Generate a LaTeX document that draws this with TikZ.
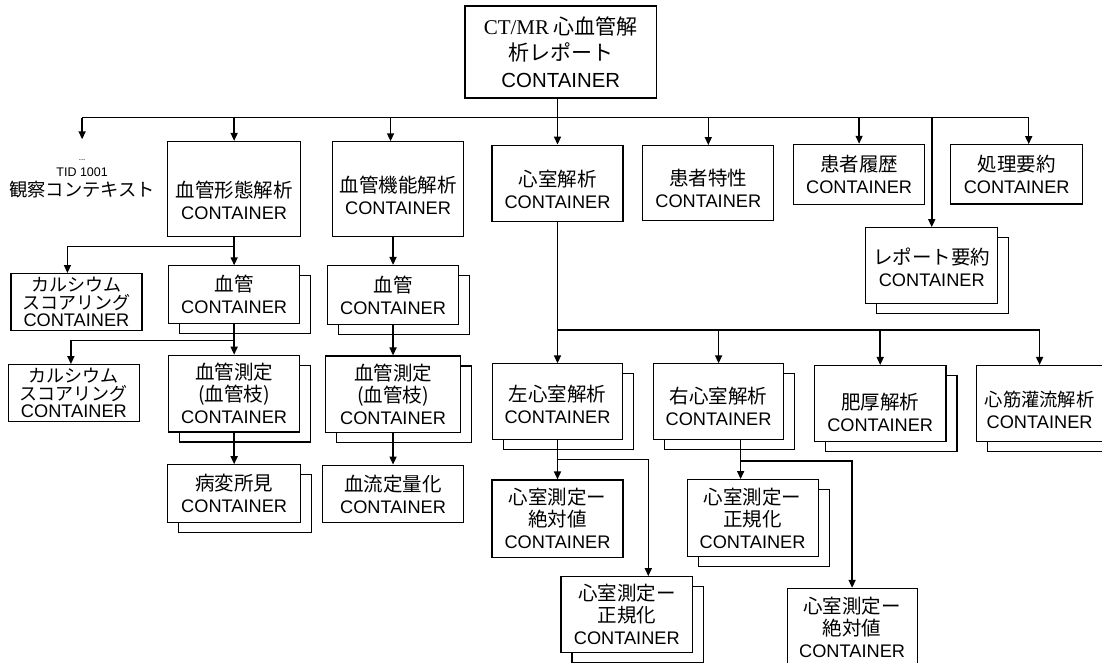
\documentclass[tikz,border=0pt]{standalone}
\usepackage{fontspec}
\setmainfont{Liberation Sans}
\newfontfamily\jpf{Noto Sans CJK JP}
\newfontfamily\tmsf{Liberation Serif}
\usetikzlibrary{arrows.meta,positioning,shadows}
\newcommand{\cnt}{{\rmfamily\fontsize{18.2}{\baselineskip}\selectfont CONTAINER}}
\newcommand{\sink}[1]{\rule{0pt}{#1pt}}

\begin{document}
\begin{tikzpicture}[x=1pt,y=-1pt,
    box/.style={draw,line width=1.1pt,fill=white,inner sep=0pt,minimum width=131pt,minimum height=76pt,align=center,font=\jpf\fontsize{19.5}{22}\selectfont},
    stack/.style={copy shadow={shadow xshift=11pt,shadow yshift=-10pt,draw=black,fill=white,line width=1.1pt}},
    arr/.style={-{Triangle[length=8pt,width=7pt]},line width=1.5pt},
    bus/.style={line width=1.2pt}]
  \useasboundingbox (0,0) rectangle (1102,662);
  % top level
  \node[box,minimum width=191.7pt,minimum height=92pt,font=\jpf\fontsize{21}{26.5}\selectfont] (report) at (560.8,52) {{\tmsf CT/MR} 心血管解\\析レポート\\{\rmfamily\fontsize{20.4}{\baselineskip}\selectfont CONTAINER}};
  \node[box,below=46pt of report,xshift=-3.3pt] (ventr) {\sink{29}心室解析\\\cnt};
  \node[box,minimum height=75pt,right=18.7pt of ventr] (ptchar) {\sink{27}患者特性\\\cnt};
  \node[box,minimum height=60pt,right=18.7pt of ptchar.north east,anchor=north west,yshift=1.3pt] (pthist) {患者履歴\\\cnt};
  \node[box,minimum width=132pt,minimum height=59.3pt,right=25pt of pthist] (procsum) {処理要約\\\cnt};
  \node[box,stack,minimum width=131.7pt,below right=22.3pt and 72.3pt of pthist.south west] (repsum) {\sink{19}レポート要約\\\cnt};
  \node[box,minimum width=131.7pt,minimum height=94.3pt,left=27pt of ventr.north west,anchor=north east,yshift=3.3pt] (vfunc) {\sink{29}血管機能解析\\\cnt};
  \node[box,minimum width=132.7pt,minimum height=95pt,left=30.6pt of vfunc] (vmorph) {\sink{39}血管形態解析\\\cnt};
  \node[align=center,inner sep=0pt,font=\fontsize{12.5}{14}\selectfont,left=12pt of vmorph,yshift=10pt] (tid) {{\fontsize{8}{8}\selectfont ...}\\[2pt]TID 1001\\[4pt]{\jpf\fontsize{18.3}{21}\selectfont 観察コンテキスト}};
  % vessel branches
  \node[box,stack,minimum height=57.7pt,below=28.3pt of vmorph] (vessel1) {血管\\\cnt};
  \node[box,minimum height=57.3pt,below left=7.7pt and 25.6pt of vessel1.north west,font=\jpf\fontsize{18}{17.5}\selectfont] (calc1) {カルシウム\\スコアリング\\\cnt};
  \node[box,stack,minimum height=76.7pt,below=30.6pt of vessel1] (vmeas1) {血管測定\\(血管枝)\\\cnt};
  \node[box,minimum width=130.7pt,minimum height=56.6pt,below left=9.4pt and 28.3pt of vmeas1.north west,font=\jpf\fontsize{18}{17.5}\selectfont] (calc2) {カルシウム\\スコアリング\\\cnt};
  \node[box,stack,minimum width=132.6pt,minimum height=57.6pt,below=31.7pt of vmeas1] (lesion) {病変所見\\\cnt};
  \node[box,stack,minimum height=59.4pt,below=28.3pt of vfunc,xshift=-5pt] (vessel2) {血管\\\cnt};
  \node[box,stack,minimum width=135pt,minimum height=76.6pt,below=30pt of vessel2] (vmeas2) {血管測定\\(血管枝)\\\cnt};
  \node[box,minimum width=141.6pt,minimum height=57.6pt,below=31.4pt of vmeas2] (flow) {血流定量化\\\cnt};
  % ventricle branches
  \node[box,stack,minimum width=130.6pt,minimum height=75.6pt,below=141.7pt of ventr] (lv) {\sink{21}左心室解析\\\cnt};
  \node[box,stack,minimum width=130.6pt,minimum height=75.6pt,right=29.4pt of lv] (rv) {\sink{25}右心室解析\\\cnt};
  \node[box,stack,minimum width=131.6pt,minimum height=76.4pt,right=29.4pt of rv,yshift=-2pt] (hyper) {\sink{34}肥厚解析\\\cnt};
  \node[box,stack,minimum width=127pt,minimum height=76.4pt,right=29pt of hyper,font=\jpf\fontsize{18.3}{22}\selectfont] (perf) {\sink{28}心筋灌流解析\\\cnt};
  \node[box,minimum height=77.3pt,below=39.4pt of lv] (lvabs) {心室測定ー\\絶対値\\\cnt};
  \node[box,stack,minimum width=131.6pt,below right=18.3pt and 69pt of lvabs.south west] (lvnorm) {心室測定ー\\正規化\\\cnt};
  \node[box,stack,minimum height=77pt,below=39pt of rv,xshift=34pt] (rvnorm) {心室測定ー\\正規化\\\cnt};
  \node[box,minimum width=130pt,minimum height=78pt,below right=30.7pt and 100pt of rvnorm.south west] (rvabs) {心室測定ー\\絶対値\\\cnt};
  % connectors
  \coordinate[below=19pt of report] (bus);
  \coordinate (tidtip) at ([yshift=20pt]tid.north);
  \coordinate (vftop) at ([xshift=-7.5pt]vfunc.north);
  \coordinate (pstop) at ([xshift=12pt]procsum.north);
  \draw[bus] (bus -| tidtip) -- (bus -| pstop);
  \draw[arr] (report.south -| ventr.north) -- (ventr.north);
  \foreach \n in {tidtip,vmorph.north,vftop,ptchar.north,pthist.north,pstop,repsum.north}
    \draw[arr] (bus -| \n) -- (\n);
  \draw[arr] (vmorph.south) -- (vessel1.north);
  \draw[arr] ([yshift=-9.3pt]vmorph.south) -| ([xshift=-9pt]calc1.north);
  \draw[arr] (vessel1.south) -- (vmeas1.north);
  \draw[arr] ([yshift=-16.6pt]vessel1.south) -| ([xshift=-3pt]calc2.north);
  \draw[arr] (vmeas1.south) -- (lesion.north);
  \draw[arr] (vessel2.north |- vfunc.south) -- (vessel2.north);
  \draw[arr] (vessel2.south) -- (vmeas2.north);
  \draw[arr] (vmeas2.south) -- (flow.north);
  \coordinate[below=108.3pt of ventr] (bus2);
  \draw[arr] (ventr.south) -- (lv.north);
  \draw[bus] (bus2 -| lv.north) -- (bus2 -| perf.north);
  \foreach \n in {rv,hyper,perf}
    \draw[arr] (bus2 -| \n.north) -- (\n.north);
  \draw[arr] (lv.south) -- (lvabs.north);
  \draw[arr] ([yshift=-19.4pt]lv.south) -| ([xshift=21.5pt]lvnorm.north);
  \draw[arr] ([xshift=22pt]rv.south) -- ([xshift=-12pt]rvnorm.north);
  \draw[arr] ([xshift=22pt,yshift=-21pt]rv.south) -| (rvabs.north);
\end{tikzpicture}
\end{document}
